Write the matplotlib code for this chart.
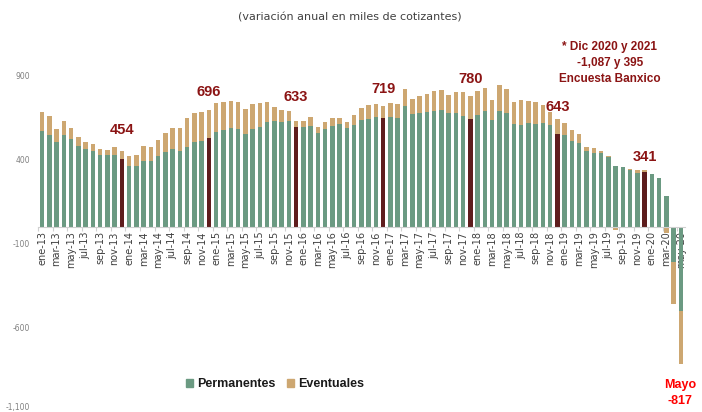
import matplotlib
matplotlib.use("Agg")
import matplotlib.pyplot as plt
from matplotlib import font_manager
from matplotlib.patches import Patch
import numpy as np

# ---- data (thousands of workers, annual change) ----
months = ["ene", "feb", "mar", "abr", "may", "jun", "jul", "ago", "sep", "oct", "nov", "dic"]
years = ["13", "14", "15", "16", "17", "18", "19", "20"]
categories = [f"{m}-{y}" for y in years for m in months][:89]

permanentes = [570, 548, 506, 546, 524, 482, 464, 452, 426, 426, 426, 405,
               364, 364, 392, 392, 422, 446, 462, 454, 476, 504, 512, 530,
               564, 576, 590, 582, 554, 582, 596, 626, 632, 624, 632, 596,
               594, 604, 560, 582, 602, 614, 592, 608, 638, 644, 654, 648,
               654, 650, 722, 674, 680, 686, 692, 698, 676, 676, 662, 642,
               664, 692, 638, 692, 680, 616, 608, 620, 616, 618, 606, 552,
               548, 514, 498, 452, 440, 440, 416, 366, 358, 340, 320, 325,
               314, 294, 186, -208, -500]
eventuales = [114, 110, 78, 82, 68, 52, 42, 40, 36, 34, 48, 49,
              56, 66, 92, 82, 94, 116, 126, 134, 172, 172, 170, 166,
              172, 166, 160, 162, 148, 152, 140, 118, 82, 72, 60, 37,
              38, 52, 38, 42, 46, 32, 32, 60, 70, 80, 78, 71,
              82, 82, 100, 88, 98, 106, 116, 120, 108, 128, 142, 138,
              144, 136, 118, 154, 142, 126, 148, 130, 128, 106, 80, 91,
              72, 62, 54, 22, 28, 12, 4, -20, 0, 4, 22, 16,
              -6, 0, -35, -250, -317]

dec_labels = ["454", "696", "633", "719", "780", "643", "341"]
dec_idx = [11, 23, 35, 47, 59, 71, 83]
label_offsets = [125, 110, 140, 100, 100, 70, 75]

yticks = [900, 400, -100, -600, -1100]
ytick_labels = ["900", "400", "-100", "-600", "-1,100"]

subtitle = "(variación anual en miles de cotizantes)"
note = "* Dic 2020 y 2021\n-1,087 y 395\nEncuesta Banxico"
may_note = "Mayo\n-817"

# ---- style ----
GREEN = "#6B9A82"
TAN = "#CDA771"
DEC = "#5E1D1D"
DARKRED = "#8B1414"

names = {f.name for f in font_manager.fontManager.ttflist}
bold_font = ["Liberation Sans Narrow", "Liberation Sans", "DejaVu Sans"]
bold_font = [f for f in bold_font if f in names] or ["DejaVu Sans"]

fig = plt.figure(figsize=(7.02, 4.12), dpi=100)
ax = fig.add_axes([0, 0, 1, 1])
ax.patch.set_alpha(0)

n = len(categories)
x = np.arange(n)
perm = np.array(permanentes, dtype=float)
evt = np.array(eventuales, dtype=float)

perm_colors = [DEC if i in dec_idx else GREEN for i in range(n)]
ax.bar(x, perm, width=0.62, color=perm_colors, zorder=2)
evt_bottom = np.where(np.sign(evt) == np.sign(perm), perm, 0)
ax.bar(x, evt, bottom=evt_bottom, width=0.62, color=TAN, zorder=2)

# px mapping: zero at y=227 px, 0.168 px per unit; bar 0 at x=42, step 7.26 px
step = 7.26
ax.set_xlim(-42 / step, (702 - 42) / step)
ax.set_ylim(-(412 - 227) / 0.168, 227 / 0.168)

for s in ["top", "right"]:
    ax.spines[s].set_visible(False)
ax.spines["left"].set_position(("data", (33 - 42) / step))
ax.spines["left"].set_visible(False)
ax.spines["bottom"].set_position(("data", 0))
ax.spines["bottom"].set_color("#D0D0D0")
ax.spines["bottom"].set_bounds(-0.6, n - 0.4)
ax.spines["bottom"].set_zorder(3)

ax.set_yticks(yticks)
ax.set_yticklabels(ytick_labels, fontsize=5.5, color="#808080")
ax.tick_params(axis="y", length=0, pad=2)
ax.get_yticklabels()[-1].set_va("bottom")

ax.set_xticks(x[::2])
ax.set_xticklabels(categories[::2], rotation=90, fontsize=7, color="#404040")
ax.tick_params(axis="x", which="major", length=0, pad=3)
ax.set_xticks(np.arange(-0.5, n, 2), minor=True)
ax.tick_params(axis="x", which="minor", length=3, color="#D0D0D0", width=0.8)

# december labels
for i, lab, off in zip(dec_idx, dec_labels, label_offsets):
    top = perm[i] + max(evt[i], 0)
    ax.text(i, top + off, lab, ha="center", va="center", fontsize=10.5,
            fontweight="bold", color=DARKRED, family=bold_font, zorder=4)

fig.text(350 / 702, 1 - 18 / 412, subtitle, ha="center", va="center", fontsize=8, color="#404040")
fig.text(610 / 702, 1 - 63 / 412, note, ha="center", va="center", fontsize=8.5,
         fontweight="bold", color=DARKRED, linespacing=1.45, family=bold_font)
fig.text(680 / 702, 1 - 393 / 412, may_note, ha="center", va="center", fontsize=9,
         fontweight="bold", color="#FF0000", linespacing=1.5, family=bold_font)

handles = [Patch(color=GREEN, label="Permanentes"), Patch(color=TAN, label="Eventuales")]
leg = fig.legend(handles=handles, loc="center", bbox_to_anchor=(275 / 702, 1 - 384 / 412), ncol=2,
                 frameon=False, handlelength=0.6, handleheight=0.6, handletextpad=0.3,
                 columnspacing=0.9, prop={"family": bold_font, "weight": "bold", "size": 9})
for t in leg.get_texts():
    t.set_color("#1a1a1a")

fig.savefig("out.png", dpi=100)
